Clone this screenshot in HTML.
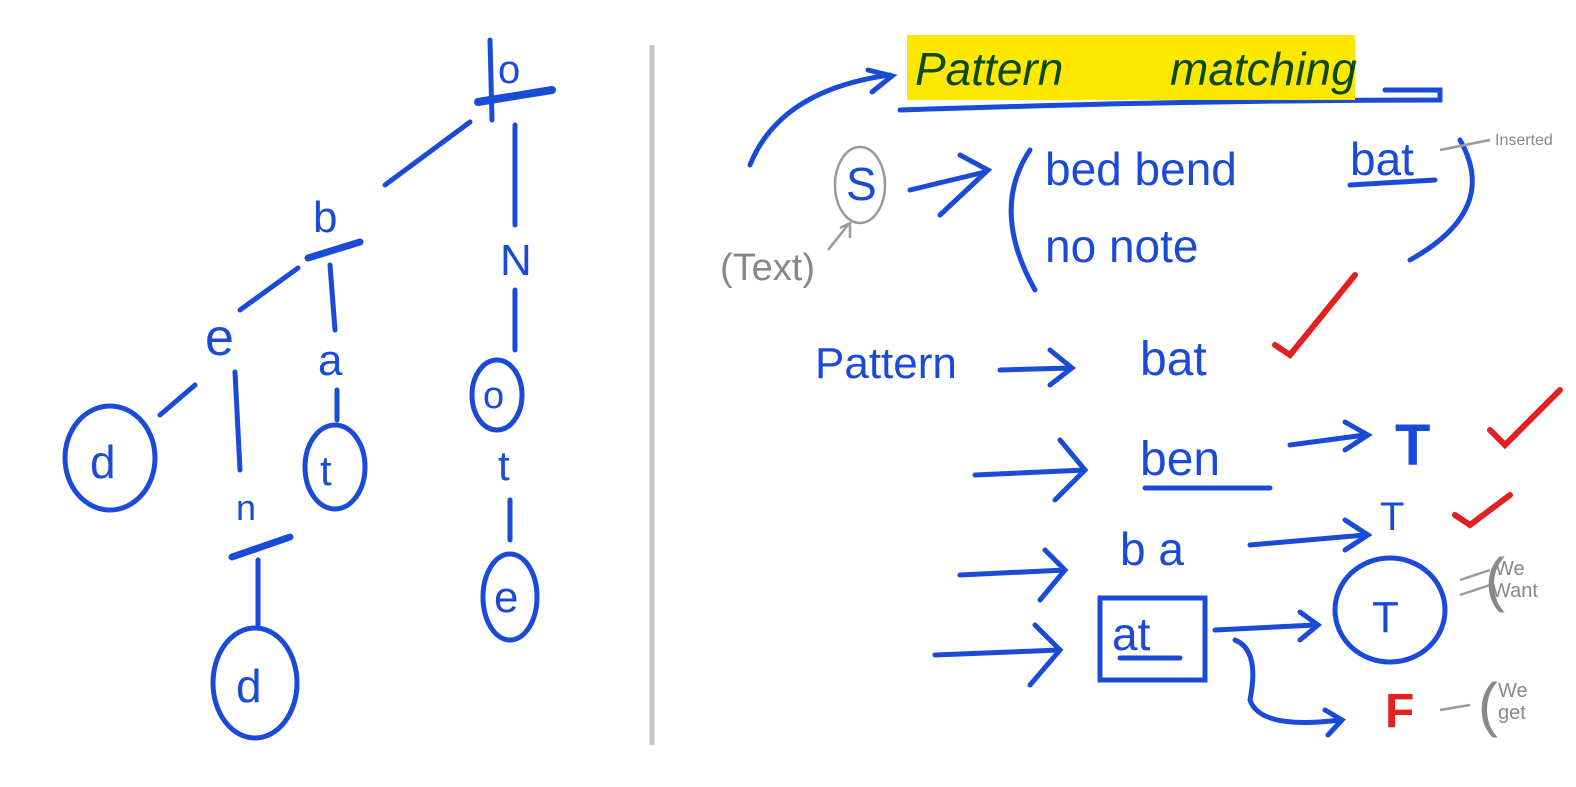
<!DOCTYPE html>
<html><head><meta charset="utf-8"><style>
html,body{margin:0;padding:0;background:#fff;width:1576px;height:787px;overflow:hidden}
svg{display:block}
text{font-family:"Liberation Sans",sans-serif}
</style></head><body>
<svg width="1576" height="787" viewBox="0 0 1576 787">
<line x1="652" y1="45" x2="652" y2="745" stroke="#c4c4c4" stroke-width="5"/>
<g stroke="#1a4ad8" stroke-width="5" fill="none" stroke-linecap="round">
<!-- tree -->
<line x1="490" y1="40" x2="492" y2="120"/>
<line x1="478" y1="102" x2="552" y2="90" stroke-width="8"/>
<line x1="470" y1="122" x2="385" y2="185"/>
<line x1="308" y1="258" x2="360" y2="242" stroke-width="7"/>
<line x1="298" y1="268" x2="240" y2="310"/>
<line x1="330" y1="265" x2="335" y2="330"/>
<line x1="195" y1="385" x2="160" y2="415"/>
<ellipse cx="110" cy="458" rx="45" ry="52"/>
<line x1="235" y1="372" x2="240" y2="470"/>
<line x1="232" y1="557" x2="290" y2="537" stroke-width="7"/>
<line x1="258" y1="560" x2="258" y2="625"/>
<ellipse cx="255" cy="683" rx="42" ry="55"/>
<line x1="337" y1="390" x2="337" y2="420"/>
<ellipse cx="335" cy="467" rx="30" ry="42"/>
<line x1="515" y1="125" x2="515" y2="225"/>
<line x1="515" y1="290" x2="515" y2="350"/>
<ellipse cx="497" cy="395" rx="25" ry="35"/>
<line x1="510" y1="500" x2="510" y2="540"/>
<ellipse cx="510" cy="597" rx="27" ry="43"/>
<!-- right side -->
<path d="M750 165 Q780 90 890 75"/>
<path d="M868 70 L892 76 L872 92"/>
<path d="M900 110 Q1200 100 1440 100 L1440 90 L1385 90"/>
<path d="M910 190 L985 172"/>
<path d="M960 155 L988 170 L940 215"/>
<path d="M1030 150 Q990 210 1035 290"/>
<path d="M1460 140 Q1500 210 1410 260"/>
<path d="M1350 185 L1435 180"/>
<path d="M1000 370 L1070 368 M1050 350 L1072 368 L1050 385"/>
<path d="M975 475 L1085 470 M1060 440 L1085 470 L1055 500"/>
<path d="M1145 488 L1270 488"/>
<path d="M1290 445 L1365 435 M1345 422 L1368 435 L1345 450"/>
<path d="M960 575 L1065 570 M1045 550 L1065 570 L1040 600"/>
<path d="M1250 545 L1365 535 M1345 520 L1368 535 L1345 550"/>
<path d="M935 655 L1060 650 M1035 625 L1060 650 L1030 685"/>
<rect x="1100" y="598" width="105" height="82"/>
<line x1="1120" y1="658" x2="1180" y2="658"/>
<path d="M1215 630 L1315 625 M1300 612 L1318 625 L1300 640"/>
<path d="M1235 640 Q1260 650 1250 700 Q1260 730 1340 720 M1325 710 L1342 720 L1328 735"/>
<ellipse cx="1390" cy="610" rx="55" ry="52"/>
</g>
<g stroke="#e32020" stroke-width="6" fill="none" stroke-linecap="round">
<path d="M1275 345 L1290 355 L1355 275"/>
<path d="M1490 430 L1505 445 L1560 390"/>
<path d="M1455 515 L1470 525 L1510 495"/>
</g>
<g stroke="#999" stroke-width="2.5" fill="none">
<ellipse cx="860" cy="185" rx="25" ry="38"/>
<path d="M828 250 L848 225 M840 228 L850 223 L850 238"/>
<path d="M1440 150 L1490 140"/>
<path d="M1460 580 L1490 570 M1460 595 L1490 585"/>
<path d="M1440 710 L1470 705"/>
</g>
<rect x="907" y="35" width="448" height="65" fill="#ffe800"/>
<text x="915" y="85" font-size="46" fill="#0a4a12" font-style="italic">Pattern</text>
<text x="1170" y="85" font-size="46" fill="#0a4a12" font-style="italic">matching</text>
<g fill="#1a4ad8" font-size="48">
<text x="498" y="83" font-size="40">o</text>
<text x="313" y="232" font-size="44">b</text>
<text x="205" y="355" font-size="52">e</text>
<text x="318" y="375" font-size="44">a</text>
<text x="90" y="478" font-size="46">d</text>
<text x="320" y="485" font-size="42">t</text>
<text x="236" y="520" font-size="36">n</text>
<text x="236" y="702" font-size="46">d</text>
<text x="500" y="275" font-size="44">N</text>
<text x="483" y="408" font-size="38">o</text>
<text x="498" y="480" font-size="42">t</text>
<text x="494" y="612" font-size="44">e</text>
<text x="846" y="200" font-size="46">S</text>
<text x="1045" y="185" font-size="46">bed bend</text>
<text x="1350" y="175" font-size="46">bat</text>
<text x="1045" y="262" font-size="46">no note</text>
<text x="815" y="378" font-size="44">Pattern</text>
<text x="1140" y="375" font-size="48">bat</text>
<text x="1140" y="475" font-size="48">ben</text>
<text x="1395" y="465" font-size="58" font-weight="bold">T</text>
<text x="1120" y="565" font-size="46">b a</text>
<text x="1380" y="530" font-size="40">T</text>
<text x="1112" y="650" font-size="46">at</text>
<text x="1372" y="632" font-size="44">T</text>
</g>
<text x="1385" y="727" font-size="48" fill="#e32020" font-weight="bold">F</text>
<g fill="#888">
<text x="720" y="280" font-size="38">(Text)</text>
<text x="1495" y="145" font-size="16">Inserted</text>
<text x="1495" y="575" font-size="20">We</text>
<text x="1492" y="597" font-size="20">Want</text>
<text x="1485" y="600" font-size="60" font-weight="100">(</text>
<text x="1498" y="697" font-size="20">We</text>
<text x="1498" y="719" font-size="20">get</text>
<text x="1478" y="725" font-size="60">(</text>
</g>
</svg>
</body></html>
